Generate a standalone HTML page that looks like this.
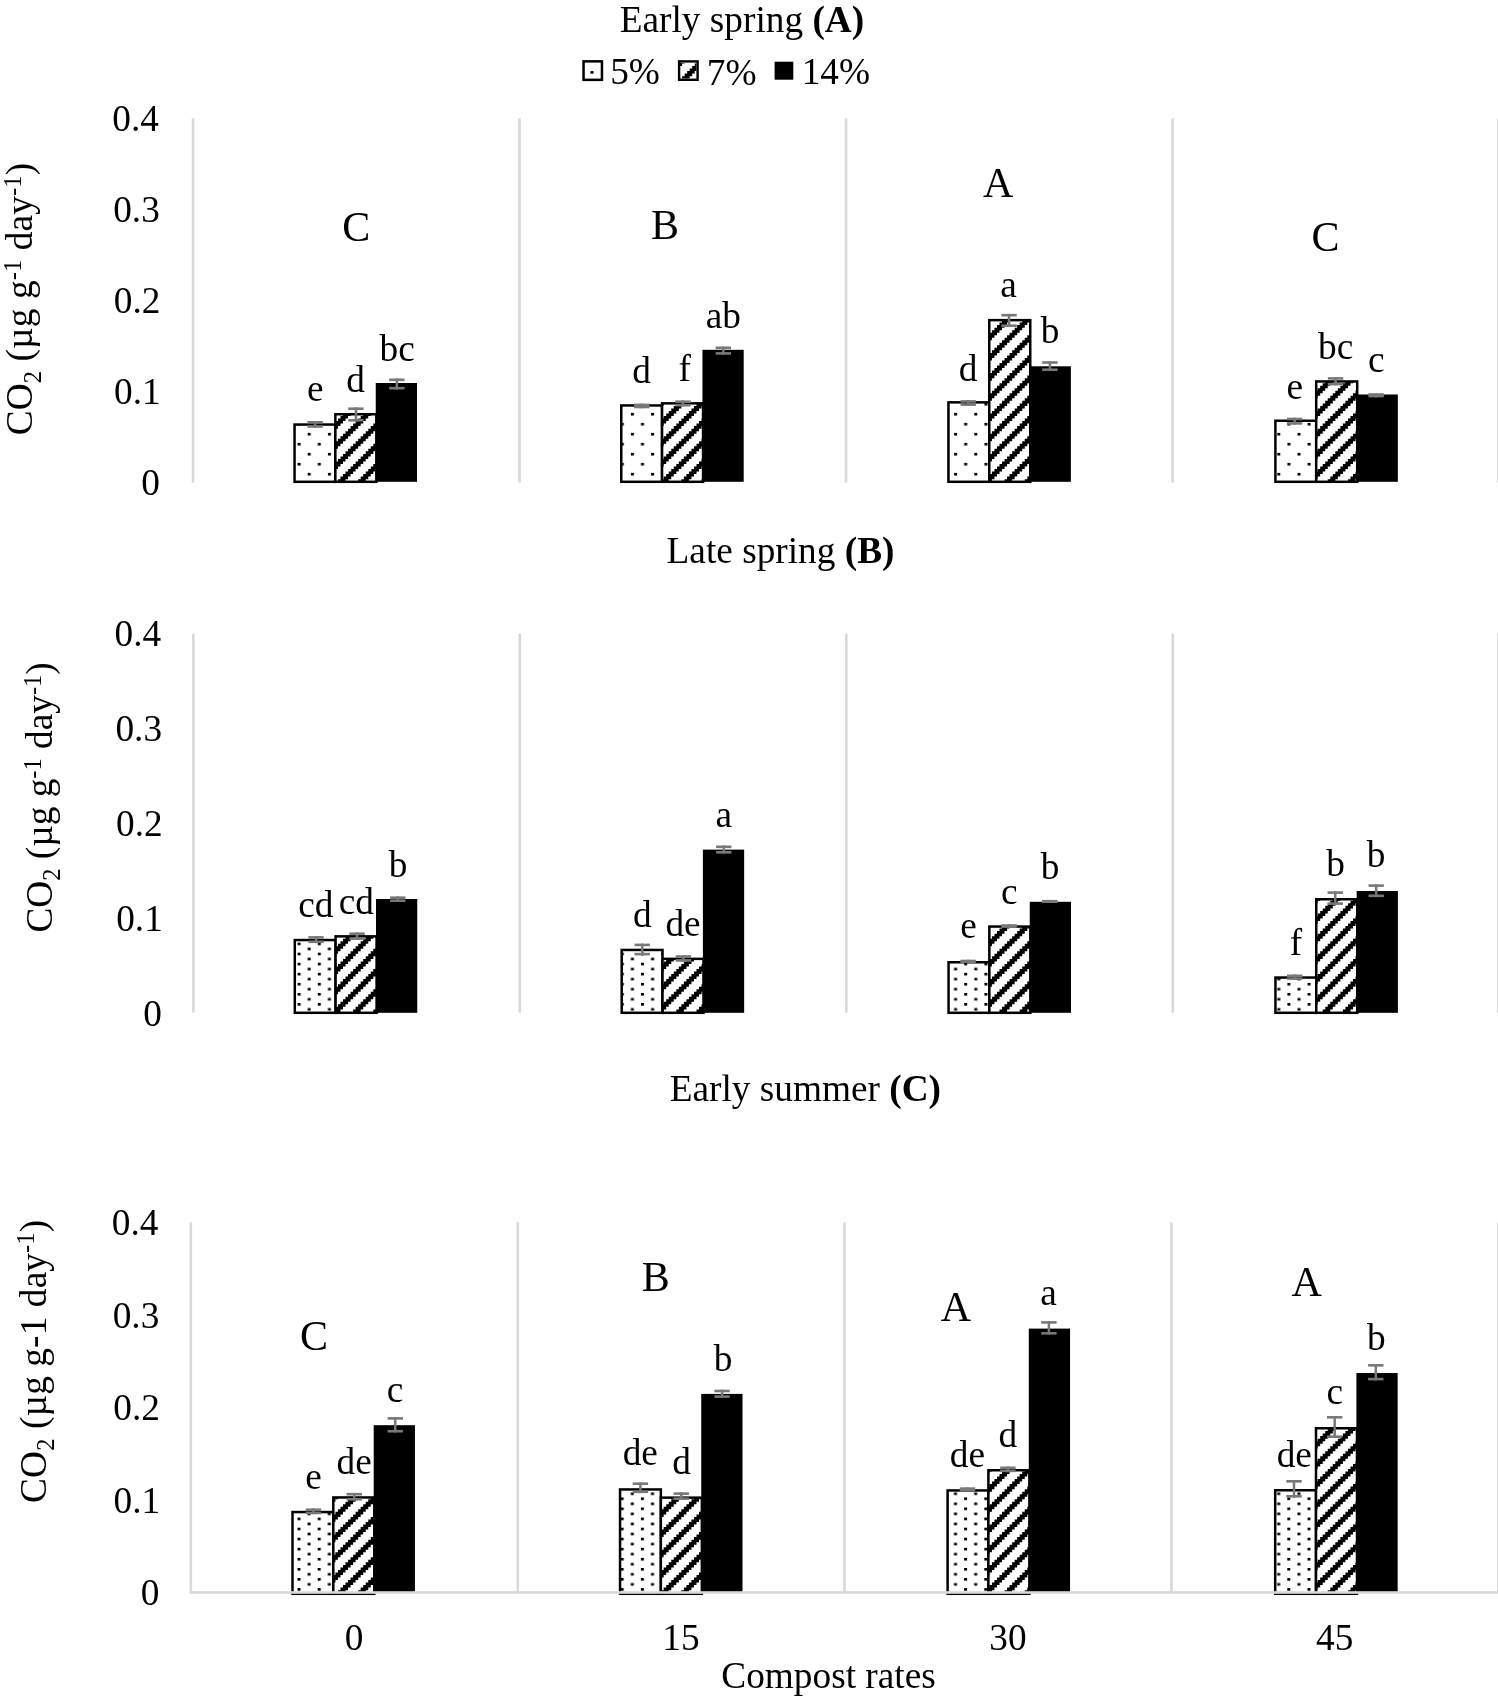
<!DOCTYPE html>
<html><head><meta charset="utf-8"><style>
html,body{margin:0;padding:0;background:#fff;}
svg{display:block;will-change:transform;}
text{font-family:"Liberation Serif",serif;fill:#000;}
</style></head><body>
<svg width="1498" height="1699" viewBox="0 0 1498 1699">
<defs><pattern id="dotsA" patternUnits="userSpaceOnUse" x="630.90" y="412.90" width="20.2" height="20.0"><rect x="0" y="0" width="3.0" height="2.6" fill="#000"/><rect x="10.10" y="10.00" width="3.0" height="2.6" fill="#000"/></pattern><clipPath id="hc1"><rect x="335.35" y="414.25" width="41.00" height="67.55"/></clipPath><clipPath id="hc2"><rect x="662.05" y="403.35" width="41.00" height="78.45"/></clipPath><clipPath id="hc3"><rect x="989.25" y="320.15" width="41.00" height="161.65"/></clipPath><clipPath id="hc4"><rect x="1316.20" y="381.45" width="41.00" height="100.35"/></clipPath><pattern id="dotsB" patternUnits="userSpaceOnUse" x="297.60" y="942.60" width="20.2" height="10.07"><rect x="0" y="0" width="3.0" height="2.6" fill="#000"/><rect x="10.10" y="5.04" width="3.0" height="2.6" fill="#000"/></pattern><clipPath id="hc5"><rect x="335.60" y="936.35" width="41.00" height="76.45"/></clipPath><clipPath id="hc6"><rect x="662.50" y="958.85" width="41.00" height="53.95"/></clipPath><clipPath id="hc7"><rect x="989.35" y="926.55" width="41.00" height="86.25"/></clipPath><clipPath id="hc8"><rect x="1316.25" y="899.25" width="41.00" height="113.55"/></clipPath><pattern id="dotsC" patternUnits="userSpaceOnUse" x="297.50" y="1517.60" width="20.2" height="10.07"><rect x="0" y="0" width="3.0" height="2.6" fill="#000"/><rect x="10.10" y="5.04" width="3.0" height="2.6" fill="#000"/></pattern><clipPath id="hc9"><rect x="333.30" y="1497.45" width="41.00" height="96.35"/></clipPath><clipPath id="hc10"><rect x="660.85" y="1497.65" width="41.00" height="96.15"/></clipPath><clipPath id="hc11"><rect x="988.40" y="1470.25" width="41.00" height="123.55"/></clipPath><clipPath id="hc12"><rect x="1316.00" y="1428.25" width="41.00" height="165.55"/></clipPath><clipPath id="hc13"><rect x="679.90" y="63.00" width="16.50" height="15.60"/></clipPath></defs>
<rect x="0" y="0" width="1498" height="1699" fill="#fff"/>
<rect x="191.70" y="118.30" width="2.60" height="364.30" fill="#d9d9d9"/>
<rect x="518.20" y="118.30" width="2.60" height="364.30" fill="#d9d9d9"/>
<rect x="844.70" y="118.30" width="2.60" height="364.30" fill="#d9d9d9"/>
<rect x="1171.30" y="118.30" width="2.60" height="364.30" fill="#d9d9d9"/>
<rect x="1497.00" y="118.30" width="2.60" height="364.30" fill="#d9d9d9"/>
<rect x="294.55" y="424.55" width="40.80" height="57.25" fill="url(#dotsA)" stroke="#000" stroke-width="2.5"/>
<rect x="335.35" y="414.25" width="41.00" height="67.55" fill="#fff" stroke="none"/>
<g clip-path="url(#hc1)"><path transform="translate(17.275 12.0) scale(2.525)" fill="#000" d="M122,158v1h3v-1zM130,158v1h-1v1h-1v1h-1v1h-1v1h-1v1h-1v1h-1v1h-1v1h3v-1h1v-1h1v-1h1v-1h1v-1h1v-1h1v-1h1v-1h1v-1zM138,158v1h-1v1h-1v1h-1v1h-1v1h-1v1h-1v1h-1v1h-1v1h-1v1h-1v1h-1v1h-1v1h-1v1h-1v1h-1v1h-1v1h3v-1h1v-1h1v-1h1v-1h1v-1h1v-1h1v-1h1v-1h1v-1h1v-1h1v-1h1v-1h1v-1h1v-1h1v-1h1v-1h1v-1zM144,160v1h-1v1h-1v1h-1v1h-1v1h-1v1h-1v1h-1v1h-1v1h-1v1h-1v1h-1v1h-1v1h-1v1h-1v1h-1v1h-1v1h-1v1h-1v1h-1v1h-1v1h-1v1h-1v1h3v-1h1v-1h1v-1h1v-1h1v-1h1v-1h1v-1h1v-1h1v-1h1v-1h1v-1h1v-1h1v-1h1v-1h1v-1h1v-1h1v-1h1v-1h1v-1h1v-1h1v-1h1v-1h1v-1zM144,168v1h-1v1h-1v1h-1v1h-1v1h-1v1h-1v1h-1v1h-1v1h-1v1h-1v1h-1v1h-1v1h-1v1h-1v1h-1v1h-1v1h-1v1h-1v1h-1v1h3v-1h1v-1h1v-1h1v-1h1v-1h1v-1h1v-1h1v-1h1v-1h1v-1h1v-1h1v-1h1v-1h1v-1h1v-1h1v-1h1v-1h1v-1h1v-1h1v-1zM144,176v1h-1v1h-1v1h-1v1h-1v1h-1v1h-1v1h-1v1h-1v1h-1v1h-1v1h-1v1h3v-1h1v-1h1v-1h1v-1h1v-1h1v-1h1v-1h1v-1h1v-1h1v-1h1v-1h1v-1zM144,184v1h-1v1h-1v1h-1v1h3v-1h1v-1h1v-1h1v-1z"/></g>
<rect x="335.35" y="414.25" width="41.00" height="67.55" fill="none" stroke="#000" stroke-width="2.5"/>
<rect x="375.75" y="383.00" width="41.25" height="98.80" fill="#000"/>
<rect x="621.25" y="405.45" width="40.80" height="76.35" fill="url(#dotsA)" stroke="#000" stroke-width="2.5"/>
<rect x="662.05" y="403.35" width="41.00" height="78.45" fill="#fff" stroke="none"/>
<g clip-path="url(#hc2)"><path transform="translate(17.275 12.0) scale(2.525)" fill="#000" d="M255,153v1h-1v1h-1v1h-1v1h3v-1h1v-1h1v-1h1v-1zM263,153v1h-1v1h-1v1h-1v1h-1v1h-1v1h-1v1h-1v1h-1v1h-1v1h-1v1h-1v1h3v-1h1v-1h1v-1h1v-1h1v-1h1v-1h1v-1h1v-1h1v-1h1v-1h1v-1h1v-1zM271,153v1h-1v1h-1v1h-1v1h-1v1h-1v1h-1v1h-1v1h-1v1h-1v1h-1v1h-1v1h-1v1h-1v1h-1v1h-1v1h-1v1h-1v1h-1v1h-1v1h3v-1h1v-1h1v-1h1v-1h1v-1h1v-1h1v-1h1v-1h1v-1h1v-1h1v-1h1v-1h1v-1h1v-1h1v-1h1v-1h1v-1h1v-1h1v-1h1v-1zM273,159v1h-1v1h-1v1h-1v1h-1v1h-1v1h-1v1h-1v1h-1v1h-1v1h-1v1h-1v1h-1v1h-1v1h-1v1h-1v1h-1v1h-1v1h-1v1h-1v1h-1v1h-1v1h3v-1h1v-1h1v-1h1v-1h1v-1h1v-1h1v-1h1v-1h1v-1h1v-1h1v-1h1v-1h1v-1h1v-1h1v-1h1v-1h1v-1h1v-1h1v-1h1v-1h1v-1h1v-1zM273,167v1h-1v1h-1v1h-1v1h-1v1h-1v1h-1v1h-1v1h-1v1h-1v1h-1v1h-1v1h-1v1h-1v1h-1v1h-1v1h-1v1h-1v1h-1v1h-1v1h-1v1h3v-1h1v-1h1v-1h1v-1h1v-1h1v-1h1v-1h1v-1h1v-1h1v-1h1v-1h1v-1h1v-1h1v-1h1v-1h1v-1h1v-1h1v-1h1v-1h1v-1h1v-1zM273,175v1h-1v1h-1v1h-1v1h-1v1h-1v1h-1v1h-1v1h-1v1h-1v1h-1v1h-1v1h-1v1h3v-1h1v-1h1v-1h1v-1h1v-1h1v-1h1v-1h1v-1h1v-1h1v-1h1v-1h1v-1h1v-1zM273,183v1h-1v1h-1v1h-1v1h-1v1h3v-1h1v-1h1v-1h1v-1h1v-1z"/></g>
<rect x="662.05" y="403.35" width="41.00" height="78.45" fill="none" stroke="#000" stroke-width="2.5"/>
<rect x="702.45" y="349.80" width="41.25" height="132.00" fill="#000"/>
<rect x="948.45" y="402.35" width="40.80" height="79.45" fill="url(#dotsA)" stroke="#000" stroke-width="2.5"/>
<rect x="989.25" y="320.15" width="41.00" height="161.65" fill="#fff" stroke="none"/>
<g clip-path="url(#hc3)"><path transform="translate(17.275 12.0) scale(2.525)" fill="#000" d="M383,121v1h-1v1h-1v1h3v-1h1v-1h1v-1zM391,121v1h-1v1h-1v1h-1v1h-1v1h-1v1h-1v1h-1v1h-1v1h-1v1h-1v1h3v-1h1v-1h1v-1h1v-1h1v-1h1v-1h1v-1h1v-1h1v-1h1v-1h1v-1zM399,121v1h-1v1h-1v1h-1v1h-1v1h-1v1h-1v1h-1v1h-1v1h-1v1h-1v1h-1v1h-1v1h-1v1h-1v1h-1v1h-1v1h-1v1h-1v1h3v-1h1v-1h1v-1h1v-1h1v-1h1v-1h1v-1h1v-1h1v-1h1v-1h1v-1h1v-1h1v-1h1v-1h1v-1h1v-1h1v-1h1v-1h1v-1zM403,125v1h-1v1h-1v1h-1v1h-1v1h-1v1h-1v1h-1v1h-1v1h-1v1h-1v1h-1v1h-1v1h-1v1h-1v1h-1v1h-1v1h-1v1h-1v1h-1v1h-1v1h-1v1h-1v1h3v-1h1v-1h1v-1h1v-1h1v-1h1v-1h1v-1h1v-1h1v-1h1v-1h1v-1h1v-1h1v-1h1v-1h1v-1h1v-1h1v-1h1v-1h1v-1h1v-1h1v-1h1v-1h1v-1zM403,133v1h-1v1h-1v1h-1v1h-1v1h-1v1h-1v1h-1v1h-1v1h-1v1h-1v1h-1v1h-1v1h-1v1h-1v1h-1v1h-1v1h-1v1h-1v1h-1v1h-1v1h-1v1h-1v1h3v-1h1v-1h1v-1h1v-1h1v-1h1v-1h1v-1h1v-1h1v-1h1v-1h1v-1h1v-1h1v-1h1v-1h1v-1h1v-1h1v-1h1v-1h1v-1h1v-1h1v-1h1v-1h1v-1zM403,141v1h-1v1h-1v1h-1v1h-1v1h-1v1h-1v1h-1v1h-1v1h-1v1h-1v1h-1v1h-1v1h-1v1h-1v1h-1v1h-1v1h-1v1h-1v1h-1v1h-1v1h-1v1h-1v1h3v-1h1v-1h1v-1h1v-1h1v-1h1v-1h1v-1h1v-1h1v-1h1v-1h1v-1h1v-1h1v-1h1v-1h1v-1h1v-1h1v-1h1v-1h1v-1h1v-1h1v-1h1v-1h1v-1zM403,149v1h-1v1h-1v1h-1v1h-1v1h-1v1h-1v1h-1v1h-1v1h-1v1h-1v1h-1v1h-1v1h-1v1h-1v1h-1v1h-1v1h-1v1h-1v1h-1v1h-1v1h-1v1h-1v1h3v-1h1v-1h1v-1h1v-1h1v-1h1v-1h1v-1h1v-1h1v-1h1v-1h1v-1h1v-1h1v-1h1v-1h1v-1h1v-1h1v-1h1v-1h1v-1h1v-1h1v-1h1v-1h1v-1zM403,157v1h-1v1h-1v1h-1v1h-1v1h-1v1h-1v1h-1v1h-1v1h-1v1h-1v1h-1v1h-1v1h-1v1h-1v1h-1v1h-1v1h-1v1h-1v1h-1v1h-1v1h-1v1h-1v1h3v-1h1v-1h1v-1h1v-1h1v-1h1v-1h1v-1h1v-1h1v-1h1v-1h1v-1h1v-1h1v-1h1v-1h1v-1h1v-1h1v-1h1v-1h1v-1h1v-1h1v-1h1v-1h1v-1zM403,165v1h-1v1h-1v1h-1v1h-1v1h-1v1h-1v1h-1v1h-1v1h-1v1h-1v1h-1v1h-1v1h-1v1h-1v1h-1v1h-1v1h-1v1h-1v1h-1v1h-1v1h-1v1h-1v1h3v-1h1v-1h1v-1h1v-1h1v-1h1v-1h1v-1h1v-1h1v-1h1v-1h1v-1h1v-1h1v-1h1v-1h1v-1h1v-1h1v-1h1v-1h1v-1h1v-1h1v-1h1v-1h1v-1zM403,173v1h-1v1h-1v1h-1v1h-1v1h-1v1h-1v1h-1v1h-1v1h-1v1h-1v1h-1v1h-1v1h-1v1h-1v1h3v-1h1v-1h1v-1h1v-1h1v-1h1v-1h1v-1h1v-1h1v-1h1v-1h1v-1h1v-1h1v-1h1v-1h1v-1zM403,181v1h-1v1h-1v1h-1v1h-1v1h-1v1h-1v1h3v-1h1v-1h1v-1h1v-1h1v-1h1v-1h1v-1z"/></g>
<rect x="989.25" y="320.15" width="41.00" height="161.65" fill="none" stroke="#000" stroke-width="2.5"/>
<rect x="1029.65" y="366.30" width="41.25" height="115.50" fill="#000"/>
<rect x="1275.40" y="420.75" width="40.80" height="61.05" fill="url(#dotsA)" stroke="#000" stroke-width="2.5"/>
<rect x="1316.20" y="381.45" width="41.00" height="100.35" fill="#fff" stroke="none"/>
<g clip-path="url(#hc4)"><path transform="translate(17.275 12.0) scale(2.525)" fill="#000" d="M511,145v1h3v-1zM519,145v1h-1v1h-1v1h-1v1h-1v1h-1v1h-1v1h-1v1h-1v1h3v-1h1v-1h1v-1h1v-1h1v-1h1v-1h1v-1h1v-1h1v-1zM527,145v1h-1v1h-1v1h-1v1h-1v1h-1v1h-1v1h-1v1h-1v1h-1v1h-1v1h-1v1h-1v1h-1v1h-1v1h-1v1h-1v1h3v-1h1v-1h1v-1h1v-1h1v-1h1v-1h1v-1h1v-1h1v-1h1v-1h1v-1h1v-1h1v-1h1v-1h1v-1h1v-1h1v-1zM532,148v1h-1v1h-1v1h-1v1h-1v1h-1v1h-1v1h-1v1h-1v1h-1v1h-1v1h-1v1h-1v1h-1v1h-1v1h-1v1h-1v1h-1v1h-1v1h-1v1h-1v1h-1v1h3v-1h1v-1h1v-1h1v-1h1v-1h1v-1h1v-1h1v-1h1v-1h1v-1h1v-1h1v-1h1v-1h1v-1h1v-1h1v-1h1v-1h1v-1h1v-1h1v-1h1v-1h1v-1zM532,156v1h-1v1h-1v1h-1v1h-1v1h-1v1h-1v1h-1v1h-1v1h-1v1h-1v1h-1v1h-1v1h-1v1h-1v1h-1v1h-1v1h-1v1h-1v1h-1v1h-1v1h-1v1h3v-1h1v-1h1v-1h1v-1h1v-1h1v-1h1v-1h1v-1h1v-1h1v-1h1v-1h1v-1h1v-1h1v-1h1v-1h1v-1h1v-1h1v-1h1v-1h1v-1h1v-1h1v-1zM532,164v1h-1v1h-1v1h-1v1h-1v1h-1v1h-1v1h-1v1h-1v1h-1v1h-1v1h-1v1h-1v1h-1v1h-1v1h-1v1h-1v1h-1v1h-1v1h-1v1h-1v1h-1v1h3v-1h1v-1h1v-1h1v-1h1v-1h1v-1h1v-1h1v-1h1v-1h1v-1h1v-1h1v-1h1v-1h1v-1h1v-1h1v-1h1v-1h1v-1h1v-1h1v-1h1v-1h1v-1zM532,172v1h-1v1h-1v1h-1v1h-1v1h-1v1h-1v1h-1v1h-1v1h-1v1h-1v1h-1v1h-1v1h-1v1h-1v1h-1v1h3v-1h1v-1h1v-1h1v-1h1v-1h1v-1h1v-1h1v-1h1v-1h1v-1h1v-1h1v-1h1v-1h1v-1h1v-1h1v-1zM532,180v1h-1v1h-1v1h-1v1h-1v1h-1v1h-1v1h-1v1h3v-1h1v-1h1v-1h1v-1h1v-1h1v-1h1v-1h1v-1z"/></g>
<rect x="1316.20" y="381.45" width="41.00" height="100.35" fill="none" stroke="#000" stroke-width="2.5"/>
<rect x="1356.60" y="394.50" width="41.25" height="87.30" fill="#000"/>
<rect x="307.45" y="421.00" width="15.40" height="2.60" fill="#787878"/>
<rect x="307.45" y="425.20" width="15.40" height="2.60" fill="#787878"/>
<rect x="313.90" y="421.00" width="2.50" height="6.80" fill="#787878"/>
<rect x="348.25" y="407.40" width="15.40" height="2.60" fill="#787878"/>
<rect x="348.25" y="419.00" width="15.40" height="2.60" fill="#787878"/>
<rect x="354.70" y="407.40" width="2.50" height="14.20" fill="#787878"/>
<rect x="389.15" y="378.50" width="15.40" height="2.60" fill="#787878"/>
<rect x="389.15" y="386.90" width="15.40" height="2.60" fill="#787878"/>
<rect x="395.60" y="378.50" width="2.50" height="11.00" fill="#787878"/>
<rect x="634.05" y="403.60" width="15.40" height="2.60" fill="#787878"/>
<rect x="634.05" y="405.70" width="15.40" height="2.60" fill="#787878"/>
<rect x="640.50" y="403.60" width="2.50" height="4.70" fill="#787878"/>
<rect x="675.25" y="400.40" width="15.40" height="2.60" fill="#787878"/>
<rect x="675.25" y="403.90" width="15.40" height="2.60" fill="#787878"/>
<rect x="681.70" y="400.40" width="2.50" height="6.10" fill="#787878"/>
<rect x="715.65" y="346.50" width="15.40" height="2.60" fill="#787878"/>
<rect x="715.65" y="352.10" width="15.40" height="2.60" fill="#787878"/>
<rect x="722.10" y="346.50" width="2.50" height="8.20" fill="#787878"/>
<rect x="960.55" y="400.10" width="15.40" height="2.60" fill="#787878"/>
<rect x="960.55" y="403.30" width="15.40" height="2.60" fill="#787878"/>
<rect x="967.00" y="400.10" width="2.50" height="5.80" fill="#787878"/>
<rect x="1001.35" y="313.90" width="15.40" height="2.60" fill="#787878"/>
<rect x="1001.35" y="324.40" width="15.40" height="2.60" fill="#787878"/>
<rect x="1007.80" y="313.90" width="2.50" height="13.10" fill="#787878"/>
<rect x="1042.20" y="361.20" width="15.40" height="2.60" fill="#787878"/>
<rect x="1042.20" y="368.40" width="15.40" height="2.60" fill="#787878"/>
<rect x="1048.65" y="361.20" width="2.50" height="9.80" fill="#787878"/>
<rect x="1286.95" y="417.70" width="15.40" height="2.60" fill="#787878"/>
<rect x="1286.95" y="422.10" width="15.40" height="2.60" fill="#787878"/>
<rect x="1293.40" y="417.70" width="2.50" height="7.00" fill="#787878"/>
<rect x="1327.90" y="377.10" width="15.40" height="2.60" fill="#787878"/>
<rect x="1327.90" y="382.80" width="15.40" height="2.60" fill="#787878"/>
<rect x="1334.35" y="377.10" width="2.50" height="8.30" fill="#787878"/>
<rect x="1368.45" y="393.20" width="15.40" height="2.60" fill="#787878"/>
<rect x="1368.45" y="394.80" width="15.40" height="2.60" fill="#787878"/>
<rect x="1374.90" y="393.20" width="2.50" height="4.20" fill="#787878"/>
<text x="307.04" y="401.31"><tspan font-size="37.3">e</tspan></text>
<text x="346.23" y="391.81"><tspan font-size="37.3">d</tspan></text>
<text x="379.52" y="360.61"><tspan font-size="37.3">bc</tspan></text>
<text x="632.18" y="382.51"><tspan font-size="37.3">d</tspan></text>
<text x="678.47" y="380.83"><tspan font-size="37.3">f</tspan></text>
<text x="705.75" y="327.81"><tspan font-size="37.3">ab</tspan></text>
<text x="958.78" y="380.61"><tspan font-size="37.3">d</tspan></text>
<text x="1000.37" y="297.27"><tspan font-size="37.3">a</tspan></text>
<text x="1040.69" y="343.16"><tspan font-size="37.3">b</tspan></text>
<text x="1286.54" y="398.76"><tspan font-size="37.3">e</tspan></text>
<text x="1318.12" y="358.76"><tspan font-size="37.3">bc</tspan></text>
<text x="1367.94" y="372.46"><tspan font-size="37.3">c</tspan></text>
<text x="342.24" y="240.70"><tspan font-size="42.0">C</tspan></text>
<text x="651.11" y="239.09"><tspan font-size="42.0">B</tspan></text>
<text x="982.98" y="197.16"><tspan font-size="42.0">A</tspan></text>
<text x="1311.44" y="250.80"><tspan font-size="42.0">C</tspan></text>
<text x="141.17" y="494.62" font-size="37.3">0</text>
<text x="114.02" y="403.66" font-size="37.3">0.1</text>
<text x="113.83" y="312.79" font-size="37.3">0.2</text>
<text x="113.23" y="221.91" font-size="37.3">0.3</text>
<text x="112.36" y="131.04" font-size="37.3">0.4</text>
<rect x="192.10" y="633.60" width="2.60" height="379.00" fill="#d9d9d9"/>
<rect x="518.50" y="633.60" width="2.60" height="379.00" fill="#d9d9d9"/>
<rect x="845.00" y="633.60" width="2.60" height="379.00" fill="#d9d9d9"/>
<rect x="1171.50" y="633.60" width="2.60" height="379.00" fill="#d9d9d9"/>
<rect x="1497.00" y="633.60" width="2.60" height="379.00" fill="#d9d9d9"/>
<rect x="294.80" y="940.05" width="40.80" height="72.75" fill="url(#dotsB)" stroke="#000" stroke-width="2.5"/>
<rect x="335.60" y="936.35" width="41.00" height="76.45" fill="#fff" stroke="none"/>
<g clip-path="url(#hc5)"><path transform="translate(17.275 12.0) scale(2.525)" fill="#000" d="M123,365v1h3v-1zM131,365v1h-1v1h-1v1h-1v1h-1v1h-1v1h-1v1h-1v1h-1v1h3v-1h1v-1h1v-1h1v-1h1v-1h1v-1h1v-1h1v-1h1v-1zM139,365v1h-1v1h-1v1h-1v1h-1v1h-1v1h-1v1h-1v1h-1v1h-1v1h-1v1h-1v1h-1v1h-1v1h-1v1h-1v1h-1v1h3v-1h1v-1h1v-1h1v-1h1v-1h1v-1h1v-1h1v-1h1v-1h1v-1h1v-1h1v-1h1v-1h1v-1h1v-1h1v-1h1v-1zM144,368v1h-1v1h-1v1h-1v1h-1v1h-1v1h-1v1h-1v1h-1v1h-1v1h-1v1h-1v1h-1v1h-1v1h-1v1h-1v1h-1v1h-1v1h-1v1h-1v1h-1v1h-1v1h3v-1h1v-1h1v-1h1v-1h1v-1h1v-1h1v-1h1v-1h1v-1h1v-1h1v-1h1v-1h1v-1h1v-1h1v-1h1v-1h1v-1h1v-1h1v-1h1v-1h1v-1h1v-1zM144,376v1h-1v1h-1v1h-1v1h-1v1h-1v1h-1v1h-1v1h-1v1h-1v1h-1v1h-1v1h-1v1h-1v1h-1v1h-1v1h-1v1h-1v1h-1v1h-1v1h-1v1h-1v1h3v-1h1v-1h1v-1h1v-1h1v-1h1v-1h1v-1h1v-1h1v-1h1v-1h1v-1h1v-1h1v-1h1v-1h1v-1h1v-1h1v-1h1v-1h1v-1h1v-1h1v-1h1v-1zM144,384v1h-1v1h-1v1h-1v1h-1v1h-1v1h-1v1h-1v1h-1v1h-1v1h-1v1h-1v1h-1v1h-1v1h3v-1h1v-1h1v-1h1v-1h1v-1h1v-1h1v-1h1v-1h1v-1h1v-1h1v-1h1v-1h1v-1h1v-1zM144,392v1h-1v1h-1v1h-1v1h-1v1h-1v1h3v-1h1v-1h1v-1h1v-1h1v-1h1v-1z"/></g>
<rect x="335.60" y="936.35" width="41.00" height="76.45" fill="none" stroke="#000" stroke-width="2.5"/>
<rect x="376.00" y="899.00" width="41.25" height="113.80" fill="#000"/>
<rect x="621.70" y="949.95" width="40.80" height="62.85" fill="url(#dotsB)" stroke="#000" stroke-width="2.5"/>
<rect x="662.50" y="958.85" width="41.00" height="53.95" fill="#fff" stroke="none"/>
<g clip-path="url(#hc6)"><path transform="translate(17.275 12.0) scale(2.525)" fill="#000" d="M259,373v1h-1v1h-1v1h-1v1h-1v1h-1v1h-1v1h-1v1h3v-1h1v-1h1v-1h1v-1h1v-1h1v-1h1v-1h1v-1zM267,373v1h-1v1h-1v1h-1v1h-1v1h-1v1h-1v1h-1v1h-1v1h-1v1h-1v1h-1v1h-1v1h-1v1h-1v1h-1v1h3v-1h1v-1h1v-1h1v-1h1v-1h1v-1h1v-1h1v-1h1v-1h1v-1h1v-1h1v-1h1v-1h1v-1h1v-1h1v-1zM273,375v1h-1v1h-1v1h-1v1h-1v1h-1v1h-1v1h-1v1h-1v1h-1v1h-1v1h-1v1h-1v1h-1v1h-1v1h-1v1h-1v1h-1v1h-1v1h-1v1h-1v1h-1v1h3v-1h1v-1h1v-1h1v-1h1v-1h1v-1h1v-1h1v-1h1v-1h1v-1h1v-1h1v-1h1v-1h1v-1h1v-1h1v-1h1v-1h1v-1h1v-1h1v-1h1v-1h1v-1zM273,383v1h-1v1h-1v1h-1v1h-1v1h-1v1h-1v1h-1v1h-1v1h-1v1h-1v1h-1v1h-1v1h-1v1h-1v1h3v-1h1v-1h1v-1h1v-1h1v-1h1v-1h1v-1h1v-1h1v-1h1v-1h1v-1h1v-1h1v-1h1v-1h1v-1zM273,391v1h-1v1h-1v1h-1v1h-1v1h-1v1h-1v1h3v-1h1v-1h1v-1h1v-1h1v-1h1v-1h1v-1z"/></g>
<rect x="662.50" y="958.85" width="41.00" height="53.95" fill="none" stroke="#000" stroke-width="2.5"/>
<rect x="702.90" y="849.60" width="41.25" height="163.20" fill="#000"/>
<rect x="948.55" y="962.25" width="40.80" height="50.55" fill="url(#dotsB)" stroke="#000" stroke-width="2.5"/>
<rect x="989.35" y="926.55" width="41.00" height="86.25" fill="#fff" stroke="none"/>
<g clip-path="url(#hc7)"><path transform="translate(17.275 12.0) scale(2.525)" fill="#000" d="M383,361v1h-1v1h-1v1h3v-1h1v-1h1v-1zM391,361v1h-1v1h-1v1h-1v1h-1v1h-1v1h-1v1h-1v1h-1v1h-1v1h-1v1h3v-1h1v-1h1v-1h1v-1h1v-1h1v-1h1v-1h1v-1h1v-1h1v-1h1v-1zM399,361v1h-1v1h-1v1h-1v1h-1v1h-1v1h-1v1h-1v1h-1v1h-1v1h-1v1h-1v1h-1v1h-1v1h-1v1h-1v1h-1v1h-1v1h-1v1h3v-1h1v-1h1v-1h1v-1h1v-1h1v-1h1v-1h1v-1h1v-1h1v-1h1v-1h1v-1h1v-1h1v-1h1v-1h1v-1h1v-1h1v-1h1v-1zM403,365v1h-1v1h-1v1h-1v1h-1v1h-1v1h-1v1h-1v1h-1v1h-1v1h-1v1h-1v1h-1v1h-1v1h-1v1h-1v1h-1v1h-1v1h-1v1h-1v1h-1v1h-1v1h-1v1h3v-1h1v-1h1v-1h1v-1h1v-1h1v-1h1v-1h1v-1h1v-1h1v-1h1v-1h1v-1h1v-1h1v-1h1v-1h1v-1h1v-1h1v-1h1v-1h1v-1h1v-1h1v-1h1v-1zM403,373v1h-1v1h-1v1h-1v1h-1v1h-1v1h-1v1h-1v1h-1v1h-1v1h-1v1h-1v1h-1v1h-1v1h-1v1h-1v1h-1v1h-1v1h-1v1h-1v1h-1v1h-1v1h-1v1h3v-1h1v-1h1v-1h1v-1h1v-1h1v-1h1v-1h1v-1h1v-1h1v-1h1v-1h1v-1h1v-1h1v-1h1v-1h1v-1h1v-1h1v-1h1v-1h1v-1h1v-1h1v-1h1v-1zM403,381v1h-1v1h-1v1h-1v1h-1v1h-1v1h-1v1h-1v1h-1v1h-1v1h-1v1h-1v1h-1v1h-1v1h-1v1h-1v1h-1v1h3v-1h1v-1h1v-1h1v-1h1v-1h1v-1h1v-1h1v-1h1v-1h1v-1h1v-1h1v-1h1v-1h1v-1h1v-1h1v-1h1v-1zM403,389v1h-1v1h-1v1h-1v1h-1v1h-1v1h-1v1h-1v1h-1v1h3v-1h1v-1h1v-1h1v-1h1v-1h1v-1h1v-1h1v-1h1v-1zM403,397v1h3v-1z"/></g>
<rect x="989.35" y="926.55" width="41.00" height="86.25" fill="none" stroke="#000" stroke-width="2.5"/>
<rect x="1029.75" y="901.80" width="41.25" height="111.00" fill="#000"/>
<rect x="1275.45" y="977.55" width="40.80" height="35.25" fill="url(#dotsB)" stroke="#000" stroke-width="2.5"/>
<rect x="1316.25" y="899.25" width="41.00" height="113.55" fill="#fff" stroke="none"/>
<g clip-path="url(#hc8)"><path transform="translate(17.275 12.0) scale(2.525)" fill="#000" d="M514,350v1h-1v1h-1v1h-1v1h3v-1h1v-1h1v-1h1v-1zM522,350v1h-1v1h-1v1h-1v1h-1v1h-1v1h-1v1h-1v1h-1v1h-1v1h-1v1h-1v1h3v-1h1v-1h1v-1h1v-1h1v-1h1v-1h1v-1h1v-1h1v-1h1v-1h1v-1h1v-1zM530,350v1h-1v1h-1v1h-1v1h-1v1h-1v1h-1v1h-1v1h-1v1h-1v1h-1v1h-1v1h-1v1h-1v1h-1v1h-1v1h-1v1h-1v1h-1v1h-1v1h3v-1h1v-1h1v-1h1v-1h1v-1h1v-1h1v-1h1v-1h1v-1h1v-1h1v-1h1v-1h1v-1h1v-1h1v-1h1v-1h1v-1h1v-1h1v-1h1v-1zM532,356v1h-1v1h-1v1h-1v1h-1v1h-1v1h-1v1h-1v1h-1v1h-1v1h-1v1h-1v1h-1v1h-1v1h-1v1h-1v1h-1v1h-1v1h-1v1h-1v1h-1v1h-1v1h3v-1h1v-1h1v-1h1v-1h1v-1h1v-1h1v-1h1v-1h1v-1h1v-1h1v-1h1v-1h1v-1h1v-1h1v-1h1v-1h1v-1h1v-1h1v-1h1v-1h1v-1h1v-1zM532,364v1h-1v1h-1v1h-1v1h-1v1h-1v1h-1v1h-1v1h-1v1h-1v1h-1v1h-1v1h-1v1h-1v1h-1v1h-1v1h-1v1h-1v1h-1v1h-1v1h-1v1h-1v1h3v-1h1v-1h1v-1h1v-1h1v-1h1v-1h1v-1h1v-1h1v-1h1v-1h1v-1h1v-1h1v-1h1v-1h1v-1h1v-1h1v-1h1v-1h1v-1h1v-1h1v-1h1v-1zM532,372v1h-1v1h-1v1h-1v1h-1v1h-1v1h-1v1h-1v1h-1v1h-1v1h-1v1h-1v1h-1v1h-1v1h-1v1h-1v1h-1v1h-1v1h-1v1h-1v1h-1v1h-1v1h3v-1h1v-1h1v-1h1v-1h1v-1h1v-1h1v-1h1v-1h1v-1h1v-1h1v-1h1v-1h1v-1h1v-1h1v-1h1v-1h1v-1h1v-1h1v-1h1v-1h1v-1h1v-1zM532,380v1h-1v1h-1v1h-1v1h-1v1h-1v1h-1v1h-1v1h-1v1h-1v1h-1v1h-1v1h-1v1h-1v1h-1v1h-1v1h-1v1h-1v1h3v-1h1v-1h1v-1h1v-1h1v-1h1v-1h1v-1h1v-1h1v-1h1v-1h1v-1h1v-1h1v-1h1v-1h1v-1h1v-1h1v-1h1v-1zM532,388v1h-1v1h-1v1h-1v1h-1v1h-1v1h-1v1h-1v1h-1v1h-1v1h3v-1h1v-1h1v-1h1v-1h1v-1h1v-1h1v-1h1v-1h1v-1h1v-1zM532,396v1h-1v1h3v-1h1v-1z"/></g>
<rect x="1316.25" y="899.25" width="41.00" height="113.55" fill="none" stroke="#000" stroke-width="2.5"/>
<rect x="1356.65" y="891.00" width="41.25" height="121.80" fill="#000"/>
<rect x="308.35" y="936.10" width="15.40" height="2.60" fill="#787878"/>
<rect x="308.35" y="940.50" width="15.40" height="2.60" fill="#787878"/>
<rect x="314.80" y="936.10" width="2.50" height="7.00" fill="#787878"/>
<rect x="349.35" y="932.40" width="15.40" height="2.60" fill="#787878"/>
<rect x="349.35" y="937.30" width="15.40" height="2.60" fill="#787878"/>
<rect x="355.80" y="932.40" width="2.50" height="7.50" fill="#787878"/>
<rect x="390.05" y="896.40" width="15.40" height="2.60" fill="#787878"/>
<rect x="390.05" y="899.40" width="15.40" height="2.60" fill="#787878"/>
<rect x="396.50" y="896.40" width="2.50" height="5.60" fill="#787878"/>
<rect x="634.55" y="943.60" width="15.40" height="2.60" fill="#787878"/>
<rect x="634.55" y="952.80" width="15.40" height="2.60" fill="#787878"/>
<rect x="641.00" y="943.60" width="2.50" height="11.80" fill="#787878"/>
<rect x="675.65" y="955.20" width="15.40" height="2.60" fill="#787878"/>
<rect x="675.65" y="959.10" width="15.40" height="2.60" fill="#787878"/>
<rect x="682.10" y="955.20" width="2.50" height="6.50" fill="#787878"/>
<rect x="716.10" y="845.50" width="15.40" height="2.60" fill="#787878"/>
<rect x="716.10" y="851.00" width="15.40" height="2.60" fill="#787878"/>
<rect x="722.55" y="845.50" width="2.50" height="8.10" fill="#787878"/>
<rect x="960.40" y="959.70" width="15.40" height="2.60" fill="#787878"/>
<rect x="960.40" y="960.50" width="15.40" height="2.60" fill="#787878"/>
<rect x="966.85" y="959.70" width="2.50" height="3.40" fill="#787878"/>
<rect x="1001.30" y="924.20" width="15.40" height="2.60" fill="#787878"/>
<rect x="1001.30" y="925.30" width="15.40" height="2.60" fill="#787878"/>
<rect x="1007.75" y="924.20" width="2.50" height="3.70" fill="#787878"/>
<rect x="1042.00" y="899.90" width="15.40" height="2.60" fill="#787878"/>
<rect x="1042.00" y="900.40" width="15.40" height="2.60" fill="#787878"/>
<rect x="1048.45" y="899.90" width="2.50" height="3.10" fill="#787878"/>
<rect x="1287.00" y="974.50" width="15.40" height="2.60" fill="#787878"/>
<rect x="1287.00" y="977.30" width="15.40" height="2.60" fill="#787878"/>
<rect x="1293.45" y="974.50" width="2.50" height="5.40" fill="#787878"/>
<rect x="1327.55" y="891.30" width="15.40" height="2.60" fill="#787878"/>
<rect x="1327.55" y="902.30" width="15.40" height="2.60" fill="#787878"/>
<rect x="1334.00" y="891.30" width="2.50" height="13.60" fill="#787878"/>
<rect x="1368.50" y="884.30" width="15.40" height="2.60" fill="#787878"/>
<rect x="1368.50" y="894.50" width="15.40" height="2.60" fill="#787878"/>
<rect x="1374.95" y="884.30" width="2.50" height="12.80" fill="#787878"/>
<text x="298.31" y="916.81"><tspan font-size="37.3">cd</tspan></text>
<text x="338.81" y="913.71"><tspan font-size="37.3">cd</tspan></text>
<text x="388.74" y="876.86"><tspan font-size="37.3">b</tspan></text>
<text x="632.93" y="926.66"><tspan font-size="37.3">d</tspan></text>
<text x="665.47" y="935.76"><tspan font-size="37.3">de</tspan></text>
<text x="715.57" y="826.72"><tspan font-size="37.3">a</tspan></text>
<text x="960.19" y="938.46"><tspan font-size="37.3">e</tspan></text>
<text x="1000.89" y="903.66"><tspan font-size="37.3">c</tspan></text>
<text x="1040.64" y="878.56"><tspan font-size="37.3">b</tspan></text>
<text x="1289.67" y="954.63"><tspan font-size="37.3">f</tspan></text>
<text x="1326.34" y="875.66"><tspan font-size="37.3">b</tspan></text>
<text x="1366.64" y="867.41"><tspan font-size="37.3">b</tspan></text>
<text x="143.37" y="1025.62" font-size="37.3">0</text>
<text x="116.22" y="930.74" font-size="37.3">0.1</text>
<text x="116.03" y="835.94" font-size="37.3">0.2</text>
<text x="115.43" y="741.14" font-size="37.3">0.3</text>
<text x="114.56" y="646.34" font-size="37.3">0.4</text>
<rect x="189.50" y="1222.30" width="2.60" height="370.20" fill="#d9d9d9"/>
<rect x="516.50" y="1222.30" width="2.60" height="370.20" fill="#d9d9d9"/>
<rect x="843.20" y="1222.30" width="2.60" height="370.20" fill="#d9d9d9"/>
<rect x="1170.10" y="1222.30" width="2.60" height="370.20" fill="#d9d9d9"/>
<rect x="1497.00" y="1222.30" width="2.60" height="370.20" fill="#d9d9d9"/>
<rect x="292.50" y="1512.05" width="40.80" height="81.75" fill="url(#dotsC)" stroke="#000" stroke-width="2.5"/>
<rect x="333.30" y="1497.45" width="41.00" height="96.35" fill="#fff" stroke="none"/>
<g clip-path="url(#hc9)"><path transform="translate(17.275 12.0) scale(2.525)" fill="#000" d="M125,587v1h-1v1h-1v1h-1v1h3v-1h1v-1h1v-1h1v-1zM133,587v1h-1v1h-1v1h-1v1h-1v1h-1v1h-1v1h-1v1h-1v1h-1v1h-1v1h-1v1h3v-1h1v-1h1v-1h1v-1h1v-1h1v-1h1v-1h1v-1h1v-1h1v-1h1v-1h1v-1zM141,587v1h-1v1h-1v1h-1v1h-1v1h-1v1h-1v1h-1v1h-1v1h-1v1h-1v1h-1v1h-1v1h-1v1h-1v1h-1v1h-1v1h-1v1h-1v1h-1v1h3v-1h1v-1h1v-1h1v-1h1v-1h1v-1h1v-1h1v-1h1v-1h1v-1h1v-1h1v-1h1v-1h1v-1h1v-1h1v-1h1v-1h1v-1h1v-1h1v-1zM143,593v1h-1v1h-1v1h-1v1h-1v1h-1v1h-1v1h-1v1h-1v1h-1v1h-1v1h-1v1h-1v1h-1v1h-1v1h-1v1h-1v1h-1v1h-1v1h-1v1h-1v1h-1v1h3v-1h1v-1h1v-1h1v-1h1v-1h1v-1h1v-1h1v-1h1v-1h1v-1h1v-1h1v-1h1v-1h1v-1h1v-1h1v-1h1v-1h1v-1h1v-1h1v-1h1v-1h1v-1zM143,601v1h-1v1h-1v1h-1v1h-1v1h-1v1h-1v1h-1v1h-1v1h-1v1h-1v1h-1v1h-1v1h-1v1h-1v1h-1v1h-1v1h-1v1h-1v1h-1v1h-1v1h-1v1h3v-1h1v-1h1v-1h1v-1h1v-1h1v-1h1v-1h1v-1h1v-1h1v-1h1v-1h1v-1h1v-1h1v-1h1v-1h1v-1h1v-1h1v-1h1v-1h1v-1h1v-1h1v-1zM143,609v1h-1v1h-1v1h-1v1h-1v1h-1v1h-1v1h-1v1h-1v1h-1v1h-1v1h-1v1h-1v1h-1v1h-1v1h-1v1h-1v1h-1v1h-1v1h3v-1h1v-1h1v-1h1v-1h1v-1h1v-1h1v-1h1v-1h1v-1h1v-1h1v-1h1v-1h1v-1h1v-1h1v-1h1v-1h1v-1h1v-1h1v-1zM143,617v1h-1v1h-1v1h-1v1h-1v1h-1v1h-1v1h-1v1h-1v1h-1v1h-1v1h3v-1h1v-1h1v-1h1v-1h1v-1h1v-1h1v-1h1v-1h1v-1h1v-1h1v-1zM143,625v1h-1v1h-1v1h3v-1h1v-1h1v-1z"/></g>
<rect x="333.30" y="1497.45" width="41.00" height="96.35" fill="none" stroke="#000" stroke-width="2.5"/>
<rect x="373.70" y="1425.20" width="41.25" height="167.30" fill="#000"/>
<rect x="620.05" y="1489.45" width="40.80" height="104.35" fill="url(#dotsC)" stroke="#000" stroke-width="2.5"/>
<rect x="660.85" y="1497.65" width="41.00" height="96.15" fill="#fff" stroke="none"/>
<g clip-path="url(#hc10)"><path transform="translate(17.275 12.0) scale(2.525)" fill="#000" d="M253,587v1h-1v1h-1v1h3v-1h1v-1h1v-1zM261,587v1h-1v1h-1v1h-1v1h-1v1h-1v1h-1v1h-1v1h-1v1h-1v1h-1v1h3v-1h1v-1h1v-1h1v-1h1v-1h1v-1h1v-1h1v-1h1v-1h1v-1h1v-1zM269,587v1h-1v1h-1v1h-1v1h-1v1h-1v1h-1v1h-1v1h-1v1h-1v1h-1v1h-1v1h-1v1h-1v1h-1v1h-1v1h-1v1h-1v1h-1v1h3v-1h1v-1h1v-1h1v-1h1v-1h1v-1h1v-1h1v-1h1v-1h1v-1h1v-1h1v-1h1v-1h1v-1h1v-1h1v-1h1v-1h1v-1h1v-1zM273,591v1h-1v1h-1v1h-1v1h-1v1h-1v1h-1v1h-1v1h-1v1h-1v1h-1v1h-1v1h-1v1h-1v1h-1v1h-1v1h-1v1h-1v1h-1v1h-1v1h-1v1h-1v1h-1v1h3v-1h1v-1h1v-1h1v-1h1v-1h1v-1h1v-1h1v-1h1v-1h1v-1h1v-1h1v-1h1v-1h1v-1h1v-1h1v-1h1v-1h1v-1h1v-1h1v-1h1v-1h1v-1h1v-1zM273,599v1h-1v1h-1v1h-1v1h-1v1h-1v1h-1v1h-1v1h-1v1h-1v1h-1v1h-1v1h-1v1h-1v1h-1v1h-1v1h-1v1h-1v1h-1v1h-1v1h-1v1h-1v1h-1v1h3v-1h1v-1h1v-1h1v-1h1v-1h1v-1h1v-1h1v-1h1v-1h1v-1h1v-1h1v-1h1v-1h1v-1h1v-1h1v-1h1v-1h1v-1h1v-1h1v-1h1v-1h1v-1h1v-1zM273,607v1h-1v1h-1v1h-1v1h-1v1h-1v1h-1v1h-1v1h-1v1h-1v1h-1v1h-1v1h-1v1h-1v1h-1v1h-1v1h-1v1h-1v1h-1v1h-1v1h-1v1h3v-1h1v-1h1v-1h1v-1h1v-1h1v-1h1v-1h1v-1h1v-1h1v-1h1v-1h1v-1h1v-1h1v-1h1v-1h1v-1h1v-1h1v-1h1v-1h1v-1h1v-1zM273,615v1h-1v1h-1v1h-1v1h-1v1h-1v1h-1v1h-1v1h-1v1h-1v1h-1v1h-1v1h-1v1h3v-1h1v-1h1v-1h1v-1h1v-1h1v-1h1v-1h1v-1h1v-1h1v-1h1v-1h1v-1h1v-1zM273,623v1h-1v1h-1v1h-1v1h-1v1h3v-1h1v-1h1v-1h1v-1h1v-1z"/></g>
<rect x="660.85" y="1497.65" width="41.00" height="96.15" fill="none" stroke="#000" stroke-width="2.5"/>
<rect x="701.25" y="1393.90" width="41.25" height="198.60" fill="#000"/>
<rect x="947.60" y="1490.45" width="40.80" height="103.35" fill="url(#dotsC)" stroke="#000" stroke-width="2.5"/>
<rect x="988.40" y="1470.25" width="41.00" height="123.55" fill="#fff" stroke="none"/>
<g clip-path="url(#hc11)"><path transform="translate(17.275 12.0) scale(2.525)" fill="#000" d="M384,576v1h-1v1h-1v1h-1v1h3v-1h1v-1h1v-1h1v-1zM392,576v1h-1v1h-1v1h-1v1h-1v1h-1v1h-1v1h-1v1h-1v1h-1v1h-1v1h-1v1h3v-1h1v-1h1v-1h1v-1h1v-1h1v-1h1v-1h1v-1h1v-1h1v-1h1v-1h1v-1zM400,576v1h-1v1h-1v1h-1v1h-1v1h-1v1h-1v1h-1v1h-1v1h-1v1h-1v1h-1v1h-1v1h-1v1h-1v1h-1v1h-1v1h-1v1h-1v1h-1v1h3v-1h1v-1h1v-1h1v-1h1v-1h1v-1h1v-1h1v-1h1v-1h1v-1h1v-1h1v-1h1v-1h1v-1h1v-1h1v-1h1v-1h1v-1h1v-1h1v-1zM402,582v1h-1v1h-1v1h-1v1h-1v1h-1v1h-1v1h-1v1h-1v1h-1v1h-1v1h-1v1h-1v1h-1v1h-1v1h-1v1h-1v1h-1v1h-1v1h-1v1h-1v1h-1v1h3v-1h1v-1h1v-1h1v-1h1v-1h1v-1h1v-1h1v-1h1v-1h1v-1h1v-1h1v-1h1v-1h1v-1h1v-1h1v-1h1v-1h1v-1h1v-1h1v-1h1v-1h1v-1zM402,590v1h-1v1h-1v1h-1v1h-1v1h-1v1h-1v1h-1v1h-1v1h-1v1h-1v1h-1v1h-1v1h-1v1h-1v1h-1v1h-1v1h-1v1h-1v1h-1v1h-1v1h-1v1h3v-1h1v-1h1v-1h1v-1h1v-1h1v-1h1v-1h1v-1h1v-1h1v-1h1v-1h1v-1h1v-1h1v-1h1v-1h1v-1h1v-1h1v-1h1v-1h1v-1h1v-1h1v-1zM402,598v1h-1v1h-1v1h-1v1h-1v1h-1v1h-1v1h-1v1h-1v1h-1v1h-1v1h-1v1h-1v1h-1v1h-1v1h-1v1h-1v1h-1v1h-1v1h-1v1h-1v1h-1v1h3v-1h1v-1h1v-1h1v-1h1v-1h1v-1h1v-1h1v-1h1v-1h1v-1h1v-1h1v-1h1v-1h1v-1h1v-1h1v-1h1v-1h1v-1h1v-1h1v-1h1v-1h1v-1zM402,606v1h-1v1h-1v1h-1v1h-1v1h-1v1h-1v1h-1v1h-1v1h-1v1h-1v1h-1v1h-1v1h-1v1h-1v1h-1v1h-1v1h-1v1h-1v1h-1v1h-1v1h-1v1h3v-1h1v-1h1v-1h1v-1h1v-1h1v-1h1v-1h1v-1h1v-1h1v-1h1v-1h1v-1h1v-1h1v-1h1v-1h1v-1h1v-1h1v-1h1v-1h1v-1h1v-1h1v-1zM402,614v1h-1v1h-1v1h-1v1h-1v1h-1v1h-1v1h-1v1h-1v1h-1v1h-1v1h-1v1h-1v1h-1v1h3v-1h1v-1h1v-1h1v-1h1v-1h1v-1h1v-1h1v-1h1v-1h1v-1h1v-1h1v-1h1v-1h1v-1zM402,622v1h-1v1h-1v1h-1v1h-1v1h-1v1h3v-1h1v-1h1v-1h1v-1h1v-1h1v-1z"/></g>
<rect x="988.40" y="1470.25" width="41.00" height="123.55" fill="none" stroke="#000" stroke-width="2.5"/>
<rect x="1028.80" y="1328.60" width="41.25" height="263.90" fill="#000"/>
<rect x="1275.20" y="1490.25" width="40.80" height="103.55" fill="url(#dotsC)" stroke="#000" stroke-width="2.5"/>
<rect x="1316.00" y="1428.25" width="41.00" height="165.55" fill="#fff" stroke="none"/>
<g clip-path="url(#hc12)"><path transform="translate(17.275 12.0) scale(2.525)" fill="#000" d="M513,559v1h-1v1h-1v1h3v-1h1v-1h1v-1zM521,559v1h-1v1h-1v1h-1v1h-1v1h-1v1h-1v1h-1v1h-1v1h-1v1h-1v1h3v-1h1v-1h1v-1h1v-1h1v-1h1v-1h1v-1h1v-1h1v-1h1v-1h1v-1zM529,559v1h-1v1h-1v1h-1v1h-1v1h-1v1h-1v1h-1v1h-1v1h-1v1h-1v1h-1v1h-1v1h-1v1h-1v1h-1v1h-1v1h-1v1h-1v1h3v-1h1v-1h1v-1h1v-1h1v-1h1v-1h1v-1h1v-1h1v-1h1v-1h1v-1h1v-1h1v-1h1v-1h1v-1h1v-1h1v-1h1v-1h1v-1zM532,564v1h-1v1h-1v1h-1v1h-1v1h-1v1h-1v1h-1v1h-1v1h-1v1h-1v1h-1v1h-1v1h-1v1h-1v1h-1v1h-1v1h-1v1h-1v1h-1v1h-1v1h-1v1h3v-1h1v-1h1v-1h1v-1h1v-1h1v-1h1v-1h1v-1h1v-1h1v-1h1v-1h1v-1h1v-1h1v-1h1v-1h1v-1h1v-1h1v-1h1v-1h1v-1h1v-1h1v-1zM532,572v1h-1v1h-1v1h-1v1h-1v1h-1v1h-1v1h-1v1h-1v1h-1v1h-1v1h-1v1h-1v1h-1v1h-1v1h-1v1h-1v1h-1v1h-1v1h-1v1h-1v1h-1v1h3v-1h1v-1h1v-1h1v-1h1v-1h1v-1h1v-1h1v-1h1v-1h1v-1h1v-1h1v-1h1v-1h1v-1h1v-1h1v-1h1v-1h1v-1h1v-1h1v-1h1v-1h1v-1zM532,580v1h-1v1h-1v1h-1v1h-1v1h-1v1h-1v1h-1v1h-1v1h-1v1h-1v1h-1v1h-1v1h-1v1h-1v1h-1v1h-1v1h-1v1h-1v1h-1v1h-1v1h-1v1h3v-1h1v-1h1v-1h1v-1h1v-1h1v-1h1v-1h1v-1h1v-1h1v-1h1v-1h1v-1h1v-1h1v-1h1v-1h1v-1h1v-1h1v-1h1v-1h1v-1h1v-1h1v-1zM532,588v1h-1v1h-1v1h-1v1h-1v1h-1v1h-1v1h-1v1h-1v1h-1v1h-1v1h-1v1h-1v1h-1v1h-1v1h-1v1h-1v1h-1v1h-1v1h-1v1h-1v1h-1v1h3v-1h1v-1h1v-1h1v-1h1v-1h1v-1h1v-1h1v-1h1v-1h1v-1h1v-1h1v-1h1v-1h1v-1h1v-1h1v-1h1v-1h1v-1h1v-1h1v-1h1v-1h1v-1zM532,596v1h-1v1h-1v1h-1v1h-1v1h-1v1h-1v1h-1v1h-1v1h-1v1h-1v1h-1v1h-1v1h-1v1h-1v1h-1v1h-1v1h-1v1h-1v1h-1v1h-1v1h-1v1h3v-1h1v-1h1v-1h1v-1h1v-1h1v-1h1v-1h1v-1h1v-1h1v-1h1v-1h1v-1h1v-1h1v-1h1v-1h1v-1h1v-1h1v-1h1v-1h1v-1h1v-1h1v-1zM532,604v1h-1v1h-1v1h-1v1h-1v1h-1v1h-1v1h-1v1h-1v1h-1v1h-1v1h-1v1h-1v1h-1v1h-1v1h-1v1h-1v1h-1v1h-1v1h-1v1h-1v1h-1v1h3v-1h1v-1h1v-1h1v-1h1v-1h1v-1h1v-1h1v-1h1v-1h1v-1h1v-1h1v-1h1v-1h1v-1h1v-1h1v-1h1v-1h1v-1h1v-1h1v-1h1v-1h1v-1zM532,612v1h-1v1h-1v1h-1v1h-1v1h-1v1h-1v1h-1v1h-1v1h-1v1h-1v1h-1v1h-1v1h-1v1h-1v1h-1v1h3v-1h1v-1h1v-1h1v-1h1v-1h1v-1h1v-1h1v-1h1v-1h1v-1h1v-1h1v-1h1v-1h1v-1h1v-1h1v-1zM532,620v1h-1v1h-1v1h-1v1h-1v1h-1v1h-1v1h-1v1h3v-1h1v-1h1v-1h1v-1h1v-1h1v-1h1v-1h1v-1z"/></g>
<rect x="1316.00" y="1428.25" width="41.00" height="165.55" fill="none" stroke="#000" stroke-width="2.5"/>
<rect x="1356.40" y="1373.00" width="41.25" height="219.50" fill="#000"/>
<rect x="189.50" y="1591.20" width="1309.20" height="2.60" fill="#d9d9d9"/>
<rect x="305.75" y="1508.40" width="15.40" height="2.60" fill="#787878"/>
<rect x="305.75" y="1511.60" width="15.40" height="2.60" fill="#787878"/>
<rect x="312.20" y="1508.40" width="2.50" height="5.80" fill="#787878"/>
<rect x="346.55" y="1492.90" width="15.40" height="2.60" fill="#787878"/>
<rect x="346.55" y="1498.00" width="15.40" height="2.60" fill="#787878"/>
<rect x="353.00" y="1492.90" width="2.50" height="7.70" fill="#787878"/>
<rect x="387.55" y="1417.10" width="15.40" height="2.60" fill="#787878"/>
<rect x="387.55" y="1429.90" width="15.40" height="2.60" fill="#787878"/>
<rect x="394.00" y="1417.10" width="2.50" height="15.40" fill="#787878"/>
<rect x="632.70" y="1482.40" width="15.40" height="2.60" fill="#787878"/>
<rect x="632.70" y="1490.50" width="15.40" height="2.60" fill="#787878"/>
<rect x="639.15" y="1482.40" width="2.50" height="10.70" fill="#787878"/>
<rect x="673.55" y="1492.30" width="15.40" height="2.60" fill="#787878"/>
<rect x="673.55" y="1497.40" width="15.40" height="2.60" fill="#787878"/>
<rect x="680.00" y="1492.30" width="2.50" height="7.70" fill="#787878"/>
<rect x="714.40" y="1389.70" width="15.40" height="2.60" fill="#787878"/>
<rect x="714.40" y="1395.30" width="15.40" height="2.60" fill="#787878"/>
<rect x="720.85" y="1389.70" width="2.50" height="8.20" fill="#787878"/>
<rect x="959.80" y="1487.30" width="15.40" height="2.60" fill="#787878"/>
<rect x="959.80" y="1488.80" width="15.40" height="2.60" fill="#787878"/>
<rect x="966.25" y="1487.30" width="2.50" height="4.10" fill="#787878"/>
<rect x="1000.20" y="1466.50" width="15.40" height="2.60" fill="#787878"/>
<rect x="1000.20" y="1469.60" width="15.40" height="2.60" fill="#787878"/>
<rect x="1006.65" y="1466.50" width="2.50" height="5.70" fill="#787878"/>
<rect x="1041.20" y="1321.10" width="15.40" height="2.60" fill="#787878"/>
<rect x="1041.20" y="1332.00" width="15.40" height="2.60" fill="#787878"/>
<rect x="1047.65" y="1321.10" width="2.50" height="13.50" fill="#787878"/>
<rect x="1286.30" y="1480.00" width="15.40" height="2.60" fill="#787878"/>
<rect x="1286.30" y="1495.00" width="15.40" height="2.60" fill="#787878"/>
<rect x="1292.75" y="1480.00" width="2.50" height="17.60" fill="#787878"/>
<rect x="1327.00" y="1416.00" width="15.40" height="2.60" fill="#787878"/>
<rect x="1327.00" y="1435.40" width="15.40" height="2.60" fill="#787878"/>
<rect x="1333.45" y="1416.00" width="2.50" height="22.00" fill="#787878"/>
<rect x="1368.10" y="1364.00" width="15.40" height="2.60" fill="#787878"/>
<rect x="1368.10" y="1377.80" width="15.40" height="2.60" fill="#787878"/>
<rect x="1374.55" y="1364.00" width="2.50" height="16.40" fill="#787878"/>
<text x="305.14" y="1488.86"><tspan font-size="37.3">e</tspan></text>
<text x="336.62" y="1474.06"><tspan font-size="37.3">de</tspan></text>
<text x="386.84" y="1401.76"><tspan font-size="37.3">c</tspan></text>
<text x="622.72" y="1464.51"><tspan font-size="37.3">de</tspan></text>
<text x="672.13" y="1473.86"><tspan font-size="37.3">d</tspan></text>
<text x="713.79" y="1370.81"><tspan font-size="37.3">b</tspan></text>
<text x="949.87" y="1466.91"><tspan font-size="37.3">de</tspan></text>
<text x="998.43" y="1446.66"><tspan font-size="37.3">d</tspan></text>
<text x="1040.37" y="1305.02"><tspan font-size="37.3">a</tspan></text>
<text x="1276.67" y="1466.56"><tspan font-size="37.3">de</tspan></text>
<text x="1326.39" y="1404.41"><tspan font-size="37.3">c</tspan></text>
<text x="1367.09" y="1349.66"><tspan font-size="37.3">b</tspan></text>
<text x="299.94" y="1350.00"><tspan font-size="42.0">C</tspan></text>
<text x="641.66" y="1291.44"><tspan font-size="42.0">B</tspan></text>
<text x="940.63" y="1321.16"><tspan font-size="42.0">A</tspan></text>
<text x="1291.48" y="1295.96"><tspan font-size="42.0">A</tspan></text>
<text x="140.67" y="1605.32" font-size="37.3">0</text>
<text x="113.52" y="1512.69" font-size="37.3">0.1</text>
<text x="113.33" y="1420.14" font-size="37.3">0.2</text>
<text x="112.73" y="1327.59" font-size="37.3">0.3</text>
<text x="111.86" y="1235.04" font-size="37.3">0.4</text>
<text x="619.76" y="32.22"><tspan font-size="37.3">Early spring </tspan><tspan font-size="37.3" font-weight="bold">(A)</tspan></text>
<text x="666.59" y="563.32"><tspan font-size="37.3">Late spring </tspan><tspan font-size="37.3" font-weight="bold">(B)</tspan></text>
<text x="669.65" y="1100.82"><tspan font-size="37.3">Early summer </tspan><tspan font-size="37.3" font-weight="bold">(C)</tspan></text>
<text x="610.19" y="84.36"><tspan font-size="37.3">5%</tspan></text>
<text x="706.75" y="84.61"><tspan font-size="37.3">7%</tspan></text>
<text x="801.66" y="84.36"><tspan font-size="37.3">14%</tspan></text>
<rect x="583.55" y="61.35" width="18.4" height="18.5" fill="#fff" stroke="#000" stroke-width="2.5"/>
<rect x="590.50" y="71.10" width="3.00" height="2.60" fill="#000"/>
<rect x="679.1" y="61.4" width="18.5" height="18.4" fill="#fff"/>
<g clip-path="url(#hc13)"><path transform="translate(694.725 63.5) scale(2.525)" fill="#000" d="M-6,-2v1h-1v1h-1v1h-1v1h3v-1h1v-1h1v-1h1v-1zM2,-2v1h-1v1h-1v1h-1v1h-1v1h-1v1h-1v1h-1v1h-1v1h3v-1h1v-1h1v-1h1v-1h1v-1h1v-1h1v-1h1v-1h1v-1zM2,6v1h3v-1z"/></g>
<rect x="679.1" y="61.4" width="18.5" height="18.4" fill="none" stroke="#000" stroke-width="2.4"/>
<rect x="774.60" y="61.70" width="18.70" height="18.00" fill="#000"/>
<text x="344.72" y="1650.47"><tspan font-size="37.3">0</tspan></text>
<text x="662.24" y="1650.38"><tspan font-size="37.3">15</tspan></text>
<text x="989.37" y="1650.37"><tspan font-size="37.3">30</tspan></text>
<text x="1316.06" y="1650.24"><tspan font-size="37.3">45</tspan></text>
<text x="721.33" y="1687.63"><tspan font-size="37.3">Compost rates</tspan></text>
<text transform="translate(32.30,435.30) rotate(-90)" font-size="37.3" letter-spacing="0.12"><tspan>CO</tspan><tspan font-size="24.5" dy="8.2">2</tspan><tspan dy="-8.2"> (µg </tspan><tspan>g</tspan><tspan font-size="24.5" dy="-11.3">-1</tspan><tspan dy="11.3"> day</tspan><tspan font-size="24.5" dy="-11.3">-1</tspan><tspan dy="11.3">)</tspan></text>
<text transform="translate(52.00,932.60) rotate(-90)" font-size="37.3" letter-spacing="0.0"><tspan>CO</tspan><tspan font-size="24.5" dy="8.2">2</tspan><tspan dy="-8.2"> (µg </tspan><tspan>g</tspan><tspan font-size="24.5" dy="-11.3">-1</tspan><tspan dy="11.3"> day</tspan><tspan font-size="24.5" dy="-11.3">-1</tspan><tspan dy="11.3">)</tspan></text>
<text transform="translate(45.60,1502.90) rotate(-90)" font-size="37.3" letter-spacing="0.12"><tspan>CO</tspan><tspan font-size="24.5" dy="8.2">2</tspan><tspan dy="-8.2"> (µg </tspan><tspan>g-1 day</tspan><tspan font-size="24.5" dy="-11.3">-1</tspan><tspan dy="11.3">)</tspan></text>
</svg>
</body></html>
